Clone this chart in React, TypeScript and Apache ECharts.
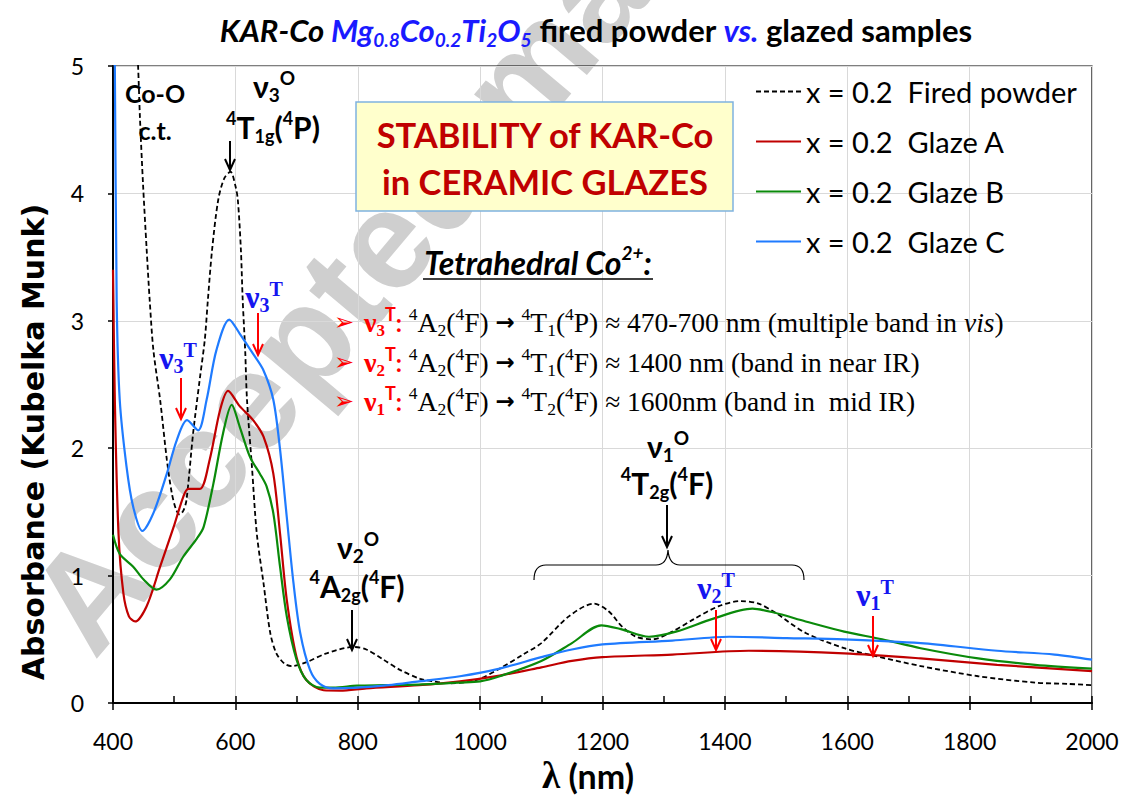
import React, { useEffect, useRef } from 'react';
import * as echarts from 'echarts';

// ---------- data (wavelength nm, absorbance K-M) ----------
const seriesNames = [
  'x = 0.2  Fired powder',
  'x = 0.2  Glaze A',
  'x = 0.2  Glaze B',
  'x = 0.2  Glaze C',
];

const firedPowder: number[][] = [
  [430, 6.2], [441, 5.0], [444, 4.6], [449, 4.08], [455, 3.56], [460, 3.16], [466, 2.77],
  [477, 2.38], [488, 1.91], [496, 1.65], [503, 1.52], [509, 1.48], [515, 1.51], [520, 1.59],
  [531, 2.12], [542, 2.55], [550, 2.85], [555, 3.16], [562, 3.56], [572, 3.95], [582, 4.12],
  [592, 4.17], [600, 4.06], [604, 3.95], [609, 3.56], [612, 3.16], [616, 2.77], [619, 2.38],
  [627, 1.86], [635, 1.33], [646, 0.94], [657, 0.55], [667, 0.39], [680, 0.31], [692, 0.29],
  [716, 0.32], [749, 0.39], [793, 0.44], [814, 0.42], [842, 0.34], [869, 0.26], [902, 0.19],
  [923, 0.17], [950, 0.155], [980, 0.165], [1000, 0.19], [1032, 0.27], [1070, 0.38],
  [1100, 0.47], [1145, 0.68], [1186, 0.78], [1210, 0.72], [1232, 0.6], [1255, 0.52],
  [1282, 0.5], [1310, 0.55], [1350, 0.66], [1390, 0.76], [1426, 0.8], [1455, 0.78],
  [1482, 0.71], [1532, 0.55], [1595, 0.43], [1645, 0.37], [1720, 0.29], [1814, 0.21],
  [1907, 0.16], [1960, 0.15], [2000, 0.14],
];

const glazeA: number[][] = [
  [400, 3.4], [403, 2.38], [409, 1.33], [417, 0.86], [426, 0.68], [436, 0.64], [455, 0.76],
  [477, 1.07], [499, 1.38], [515, 1.62], [523, 1.68], [542, 1.68], [558, 1.91], [575, 2.3],
  [588, 2.45], [607, 2.33], [629, 2.22], [646, 2.09], [662, 1.8], [673, 1.33], [684, 0.81],
  [700, 0.36], [716, 0.18], [744, 0.1], [771, 0.097], [814, 0.115], [900, 0.14], [967, 0.17],
  [1032, 0.215], [1100, 0.28], [1150, 0.33], [1200, 0.36], [1314, 0.38], [1439, 0.41],
  [1595, 0.39], [1720, 0.35], [1845, 0.3], [2000, 0.25],
];

const glazeB: number[][] = [
  [400, 1.32], [411, 1.17], [433, 1.07], [450, 0.97], [471, 0.89], [493, 0.97], [515, 1.15],
  [537, 1.29], [548, 1.38], [564, 1.72], [580, 2.12], [594, 2.34], [607, 2.17], [624, 1.93],
  [640, 1.8], [651, 1.7], [662, 1.49], [673, 1.07], [684, 0.68], [700, 0.34], [716, 0.18],
  [738, 0.12], [760, 0.12], [799, 0.136], [842, 0.14], [900, 0.145], [967, 0.16],
  [1000, 0.17], [1032, 0.21], [1100, 0.33], [1150, 0.47], [1198, 0.61], [1230, 0.58],
  [1276, 0.52], [1320, 0.56], [1380, 0.66], [1445, 0.74], [1480, 0.71], [1532, 0.64],
  [1595, 0.56], [1657, 0.5], [1720, 0.43], [1814, 0.35], [1907, 0.3], [2000, 0.27],
];

const glazeC: number[][] = [
  [400, 6.0], [403, 5.0], [406, 3.16], [411, 2.38], [422, 1.86], [433, 1.54], [448, 1.35],
  [466, 1.49], [488, 1.8], [504, 2.06], [521, 2.22], [539, 2.14], [553, 2.38], [569, 2.77],
  [590, 3.01], [607, 2.9], [629, 2.74], [646, 2.61], [662, 2.38], [673, 1.99], [684, 1.46],
  [695, 0.94], [706, 0.55], [722, 0.26], [738, 0.15], [760, 0.115], [799, 0.12], [850, 0.14],
  [900, 0.17], [967, 0.21], [1032, 0.27], [1100, 0.36], [1150, 0.42], [1200, 0.46],
  [1314, 0.49], [1407, 0.52], [1501, 0.51], [1595, 0.5], [1720, 0.47], [1845, 0.41],
  [1939, 0.38], [2000, 0.34],
];

const seriesData = [firedPowder, glazeA, glazeB, glazeC];
const seriesColors = ['#000000', '#C00000', '#0A8A0A', '#1F7BFF'];

// ---------- helpers ----------
const SANS = 'Lato';
const SERIF = 'Liberation Serif';
const BLUE = '#1515F0';

const rs = (size: number, color: string, opts: any = {}) => ({
  fontFamily: SANS, fontWeight: 'bold', fontSize: size, fill: color, color, ...opts,
});

const txt = (x: number, y: number, text: string, rich: any, align = 'center', extra: any = {}) => ({
  type: 'text', x, y, z: 20,
  style: {
    text, rich, align, textAlign: align, verticalAlign: 'middle', textVerticalAlign: 'middle',
    fill: '#000', ...extra,
  },
});

const arrow = (x: number, y1: number, y2: number, color: string) => ({
  type: 'group',
  children: [
    { type: 'line', z: 20, shape: { x1: x, y1, x2: x, y2: y2 - 1 }, style: { stroke: color, lineWidth: 2 } },
    { type: 'polyline', z: 20, shape: { points: [[x - 5, y2 - 11], [x, y2], [x + 5, y2 - 11]] }, style: { stroke: color, lineWidth: 2, fill: null } },
  ],
});

const blackNu = {
  n: rs(30, '#000', { lineHeight: 36 }),
  b: rs(19, '#000', { lineHeight: 19, verticalAlign: 'bottom' }),
  t: rs(19, '#000', { lineHeight: 19, verticalAlign: 'top' }),
};

const blueNu = {
  n: { fontFamily: SERIF, fontWeight: 'bold', fontSize: 32, fill: BLUE, lineHeight: 36 },
  b: { fontFamily: SERIF, fontWeight: 'bold', fontSize: 20, fill: BLUE, lineHeight: 20, verticalAlign: 'bottom' },
  t: { fontFamily: SERIF, fontWeight: 'bold', fontSize: 20, fill: BLUE, lineHeight: 20, verticalAlign: 'top' },
};

const termRich = {
  m: rs(30, '#000', { lineHeight: 36 }),
  p: rs(18, '#000', { lineHeight: 18, verticalAlign: 'top' }),
  s: rs(18, '#000', { lineHeight: 18, verticalAlign: 'bottom' }),
};

const listRich = {
  rn: { fontFamily: SERIF, fontWeight: 'bold', fontSize: 28, fill: '#FF0000', lineHeight: 34 },
  rb: { fontFamily: SERIF, fontWeight: 'bold', fontSize: 17, fill: '#FF0000', lineHeight: 17, verticalAlign: 'bottom' },
  rt: { fontFamily: SANS, fontWeight: 'bold', fontSize: 18, fill: '#FF0000', lineHeight: 18, verticalAlign: 'top' },
  rc: { fontFamily: SANS, fontWeight: 'bold', fontSize: 24, fill: '#FF0000', lineHeight: 34 },
  t: { fontFamily: SERIF, fontSize: 27.5, fill: '#000', lineHeight: 34 },
  i: { fontFamily: SERIF, fontStyle: 'italic', fontSize: 27.5, fill: '#000', lineHeight: 34 },
  p: { fontFamily: SERIF, fontSize: 17.5, fill: '#000', lineHeight: 17, verticalAlign: 'top' },
  s: { fontFamily: SERIF, fontSize: 17.5, fill: '#000', lineHeight: 17, verticalAlign: 'bottom' },
  a: { fontFamily: 'DejaVu Sans', fontWeight: 'bold', fontSize: 23, fill: '#000', lineHeight: 34 },
};

const listLine = (k: string, sub: string, state: string, rest: string) =>
  `{rn|ν}{rb|${k}}{rt|T}{rc|:}{t| }{p|4}{t|A}{s|2}{t|(}{p|4}{t|F)}{t| }{a|→}{t| }{p|4}{t|T}{s|${sub}}{t|(}{p|4}{t|${state})}{t| ${rest}}`;

const App: React.FC = () => {
  const ref = useRef<HTMLDivElement>(null);

  useEffect(() => {
    document.body.style.margin = '0';
    if (!ref.current) return;
    const chart = echarts.init(ref.current, undefined, { renderer: 'svg' });

    echarts.graphic.registerShape(
      'brace',
      echarts.graphic.extendPath(
        'M534,580 Q534,565 546,565 L656,565 Q667,565 668,550 Q669,565 680,565 L792,565 Q804,565 804,580',
        {}
      )
    );

    const series = seriesNames.map((name, i) => ({
      name,
      type: 'line',
      data: seriesData[i],
      symbol: 'none',
      smooth: 0.3,
      clip: true,
      z: 3,
      lineStyle: {
        color: seriesColors[i],
        width: i === 0 ? 1.8 : 2.2,
        type: i === 0 ? [5, 3] : 'solid',
      },
      itemStyle: { color: seriesColors[i] },
    }));

    const bullet = { b: { fontFamily: 'DejaVu Sans', fontSize: 24, fill: '#FF0000' } };

    const graphic: any[] = [
      // watermark
      {
        type: 'text', x: 515, y: 85, z: -1, rotation: (50 * Math.PI) / 180,
        style: {
          text: 'Accepted manuscript', font: 'bold 140px "Liberation Sans"', fill: '#cfcfcf',
          align: 'center', textAlign: 'center', verticalAlign: 'middle', textVerticalAlign: 'middle',
        },
      },
      // title
      txt(596, 30,
        '{k|KAR-Co }{m|Mg}{s|0.8}{m|Co}{s|0.2}{m|Ti}{s|2}{m|O}{s|5}{n| fired powder }{v|vs.}{n| glazed samples}',
        {
          k: rs(31, '#000', { fontStyle: 'italic', lineHeight: 38 }),
          m: rs(31, '#1A1AFF', { fontStyle: 'italic', lineHeight: 38 }),
          s: rs(19, '#1A1AFF', { fontStyle: 'italic', lineHeight: 19, verticalAlign: 'bottom' }),
          n: rs(31, '#000', { lineHeight: 38 }),
          v: rs(31, '#1A1AFF', { fontStyle: 'italic', lineHeight: 38 }),
        }),
      // y axis title
      {
        type: 'text', x: 33, y: 442, z: 20, rotation: Math.PI / 2,
        style: {
          text: 'Absorbance (Kubelka Munk)', font: 'bold 30px "DejaVu Sans"', fill: '#000',
          align: 'center', textAlign: 'center', verticalAlign: 'middle', textVerticalAlign: 'middle',
        },
      },
      // x axis title
      txt(588, 775, '{l|λ}{n| (nm)}', {
        l: { fontFamily: SERIF, fontWeight: 'bold', fontSize: 37, fill: '#000', lineHeight: 34 },
        n: rs(34, '#000', { lineHeight: 34 }),
      }),
      // Co-O c.t.
      txt(155, 93, '{a|Co-O}', { a: rs(25, '#000') }),
      txt(155, 130, '{a|c.t.}', { a: rs(25, '#000') }),
      // nu3 O
      txt(274, 86, '{n|ν}{b|3}{t|O}', blackNu),
      txt(273, 127, '{p|4}{m|T}{s|1g}{m|(}{p|4}{m|P)}', termRich),
      arrow(230, 141, 170, '#000'),
      // nu2 O
      txt(358, 547, '{n|ν}{b|2}{t|O}', blackNu),
      txt(357, 586, '{p|4}{m|A}{s|2g}{m|(}{p|4}{m|F)}', termRich),
      arrow(352, 610, 650, '#000'),
      // nu1 O
      txt(668, 446, '{n|ν}{b|1}{t|O}', blackNu),
      txt(667, 483, '{p|4}{m|T}{s|2g}{m|(}{p|4}{m|F)}', termRich),
      arrow(667, 505, 547, '#000'),
      { type: 'brace', z: 20, x: 0, y: 0, style: { stroke: '#000', lineWidth: 1.2, fill: null } },
      // blue nu-T labels + red arrows
      txt(178, 358, '{n|ν}{b|3}{t|T}', blueNu),
      arrow(181, 378, 419, '#FF0000'),
      txt(264, 297, '{n|ν}{b|3}{t|T}', blueNu),
      arrow(258, 313, 355, '#FF0000'),
      txt(716, 588, '{n|ν}{b|2}{t|T}', blueNu),
      arrow(716, 610, 650, '#FF0000'),
      txt(875, 595, '{n|ν}{b|1}{t|T}', blueNu),
      arrow(873, 616, 656, '#FF0000'),
      // yellow box
      {
        type: 'rect', z: 15, shape: { x: 356, y: 102, width: 377, height: 109 },
        style: { fill: '#FFFFCC', stroke: '#7FB2E0', lineWidth: 1.5 },
      },
      txt(545, 134, '{a|STABILITY of KAR-Co}', { a: rs(34.5, '#C00000') }),
      txt(545, 181, '{a|in CERAMIC GLAZES}', { a: rs(34.5, '#C00000') }),
      // Tetrahedral heading
      txt(538, 262, '{h|Tetrahedral Co}{s|2+}{h|:}', {
        h: rs(32, '#000', { fontStyle: 'italic', lineHeight: 38 }),
        s: rs(19, '#000', { fontStyle: 'italic', lineHeight: 19, verticalAlign: 'top' }),
      }),
      { type: 'line', z: 20, shape: { x1: 423, y1: 279, x2: 653, y2: 279 }, style: { stroke: '#000', lineWidth: 1.5 } },
      // list
      txt(344, 322, '{b|➢}', bullet),
      txt(344, 362, '{b|➢}', bullet),
      txt(344, 401, '{b|➢}', bullet),
      txt(364, 322, listLine('3', '1', 'P', '≈ 470-700 nm (multiple band in ') + '{i|vis}{t|)}', listRich, 'left'),
      txt(364, 362, listLine('2', '1', 'F', '≈ 1400 nm (band in near IR)'), listRich, 'left'),
      txt(364, 401, listLine('1', '2', 'F', '≈ 1600nm (band in\u00a0 mid IR)'), listRich, 'left'),
    ];

    chart.setOption({
      animation: false,
      backgroundColor: '#ffffff',
      grid: {
        left: 113, right: 32, top: 66, bottom: 95,
        show: true, borderColor: '#000', borderWidth: 1.2, backgroundColor: 'transparent',
      },
      legend: {
        orient: 'vertical', left: 755, top: 77, padding: 0,
        itemWidth: 45, itemHeight: 14, itemGap: 21, selectedMode: false,
        itemStyle: { opacity: 0 },
        formatter: (n: string) => n.replace('  ', '\u00a0 '),
        textStyle: { fontFamily: SANS, fontSize: 29, color: '#000' },
        data: seriesNames,
      },
      xAxis: [
        {
          type: 'value', min: 400, max: 2000, interval: 200,
          axisLine: { show: true, lineStyle: { color: '#000', width: 2 } },
          axisTick: { show: true, inside: true, length: 7, lineStyle: { color: '#000', width: 1.5 } },
          minorTick: { show: true, splitNumber: 2, length: 7, lineStyle: { color: '#000', width: 1.5 } },
          axisLabel: { color: '#000', fontFamily: SANS, fontSize: 23, margin: 26, formatter: (v: number) => String(v) },
          splitLine: { show: true, lineStyle: { color: '#D9D9D9', width: 1 } },
          z: 2,
        },
        {
          type: 'value', min: 400, max: 2000, interval: 200, position: 'bottom',
          axisLine: { show: false },
          axisTick: { show: true, inside: false, length: 7, lineStyle: { color: '#000', width: 1.5 } },
          axisLabel: { show: false },
          splitLine: { show: false },
          z: 2,
        },
      ],
      yAxis: {
        type: 'value', min: 0, max: 5, interval: 1,
        axisLine: { show: true, lineStyle: { color: '#000', width: 2 } },
        axisTick: { show: true, inside: false, length: 5, lineStyle: { color: '#000', width: 1.5 } },
        axisLabel: { color: '#000', fontFamily: SANS, fontSize: 23, margin: 29 },
        splitLine: { show: true, lineStyle: { color: '#D9D9D9', width: 1 } },
        z: 2,
      },
      series,
      graphic,
    });

    return () => chart.dispose();
  }, []);

  return <div ref={ref} style={{ width: 1124, height: 798 }} />;
};

export default App;
